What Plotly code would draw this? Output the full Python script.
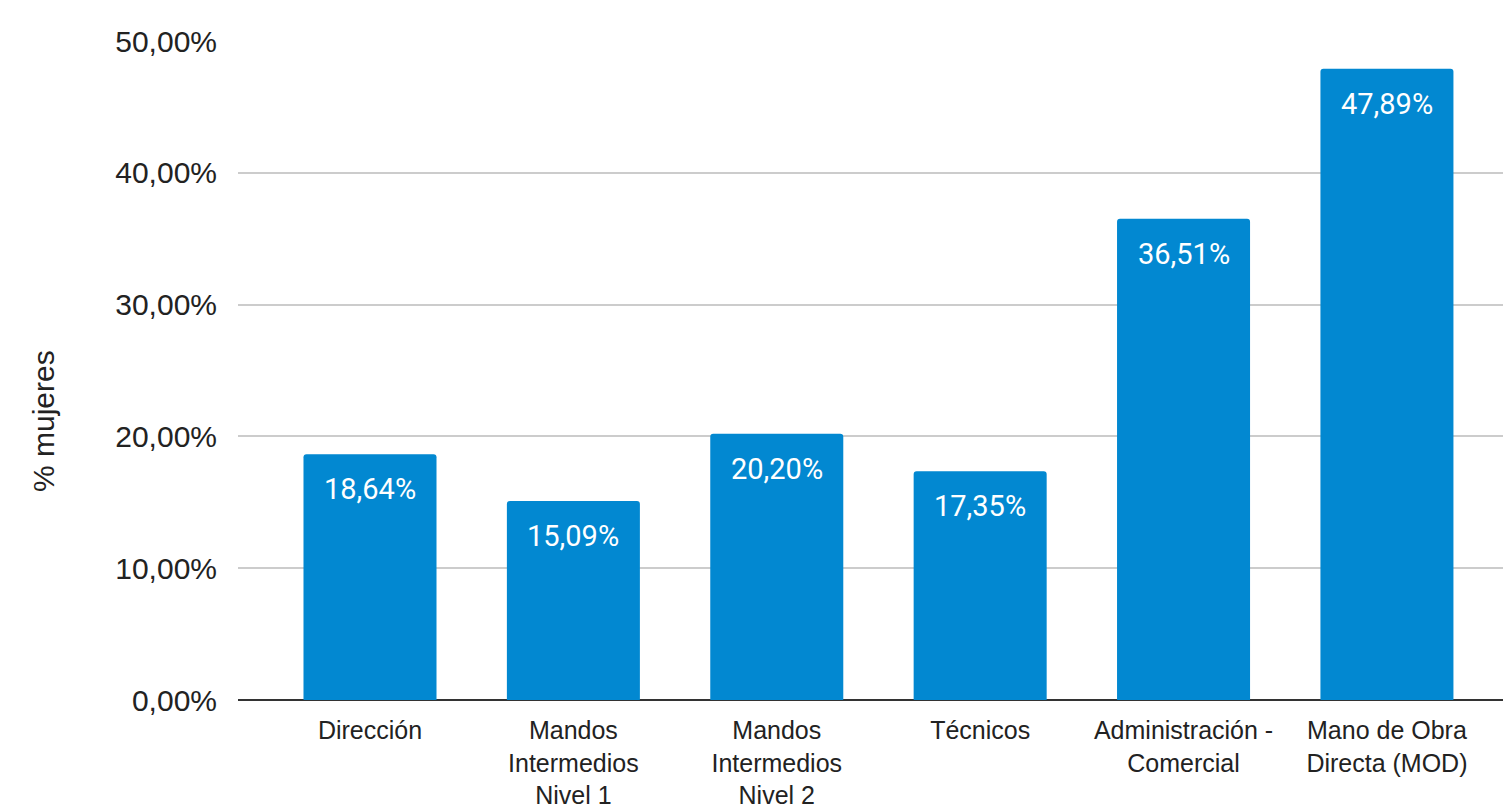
import plotly.graph_objects as go

categories = ["Dirección", "Mandos<br>Intermedios<br>Nivel 1", "Mandos<br>Intermedios<br>Nivel 2",
              "Técnicos", "Administración -<br>Comercial", "Mano de Obra<br>Directa (MOD)"]
values = [18.64, 15.09, 20.20, 17.35, 36.51, 47.89]
y_ticks = [0, 10, 20, 30, 40, 50]

BAR = "#0288d1"

# page body has 8px margin; figure size chosen so it fills the 1511x810 window
W, H = 1503, 802
L, R, T, B = 230, 0, 33, 110

fig = go.Figure()
fig.add_trace(go.Bar(
    x=list(range(len(categories))), y=values,
    marker=dict(color=BAR, cornerradius=3, line=dict(width=0)),
    width=0.654,
    hoverinfo="skip",
))

for i, v in enumerate(values):
    fig.add_annotation(x=i, y=v, xref="x", yref="y", text=f"{v:.2f}%".replace(".", ","),
                       showarrow=False, yanchor="top", yshift=-16,
                       font=dict(family="Roboto", size=29, color="white"))

fig.add_annotation(xref="paper", yref="paper",
                   x=(35 - L) / (W - L - R), y=(H - B - 413) / (H - B - T),
                   xanchor="center", yanchor="middle",
                   text="% mujeres", showarrow=False, textangle=-90,
                   font=dict(family="Liberation Sans, Arial", size=30, color="#222"))

fig.update_layout(
    width=W, height=H,
    margin=dict(l=L, r=R, t=T, b=B),
    paper_bgcolor="white", plot_bgcolor="white",
    showlegend=False,
    xaxis=dict(
        range=[-0.649, 5.61],
        tickmode="array", tickvals=list(range(len(categories))), ticktext=categories,
        tickfont=dict(family="Liberation Sans, Arial", size=25, color="#222"),
        showgrid=False, zeroline=False, showline=False, ticks="",
        ticklabelstandoff=13,
    ),
    yaxis=dict(
        range=[0, 50],
        tickmode="array", tickvals=y_ticks,
        ticktext=[f"{t:.2f}%".replace(".", ",") for t in y_ticks],
        tickfont=dict(family="Liberation Sans, Arial", size=30, color="#222"),
        showgrid=True, gridcolor="#cccccc", gridwidth=1.5,
        zeroline=True, zerolinecolor="#333333", zerolinewidth=2,
        showline=False, ticks="", ticklabelstandoff=20,
    ),
)

fig.write_html("out.html")
